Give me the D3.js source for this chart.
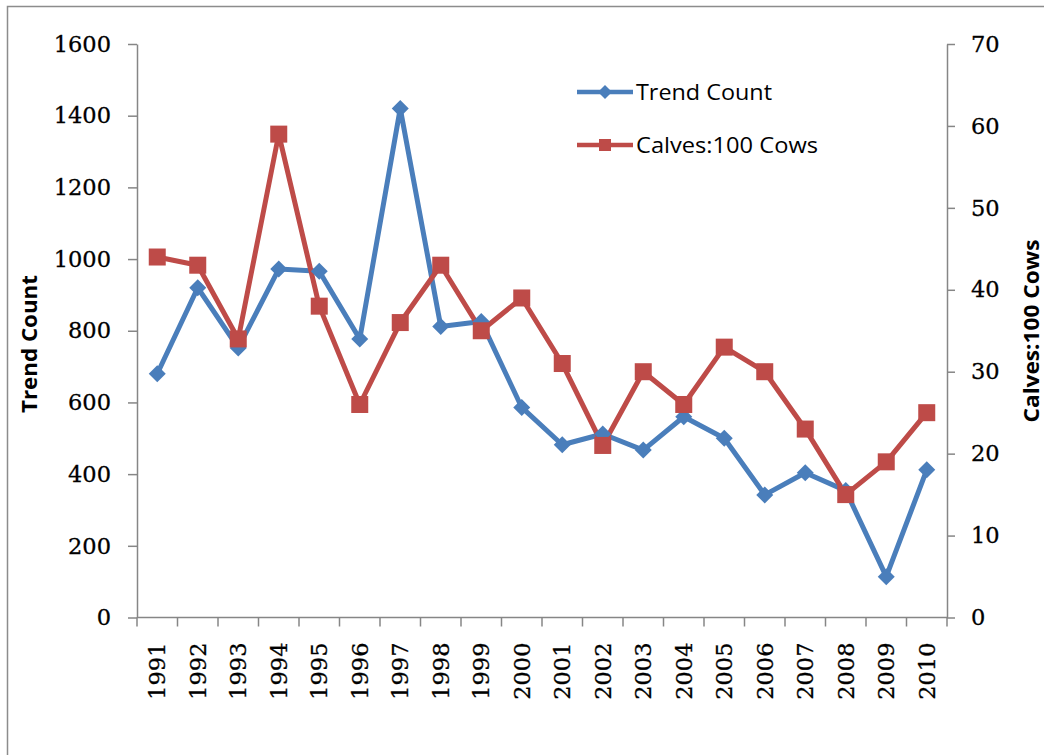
<!DOCTYPE html>
<html>
<head>
<meta charset="utf-8">
<script src="https://cdn.jsdelivr.net/npm/d3@7"></script>
<style>
  html, body { margin: 0; padding: 0; background: #fff; }
  svg { display: block; }
</style>
</head>
<body>
<script>
// ---- Data ----
const years = ["1991","1992","1993","1994","1995","1996","1997","1998","1999","2000",
               "2001","2002","2003","2004","2005","2006","2007","2008","2009","2010"];
const trendCount = [680, 920, 752, 972, 966, 777, 1420, 812, 826, 586,
                    482, 512, 467, 560, 500, 342, 404, 354, 114, 412];
const calvesPer100Cows = [44, 43, 34, 59, 38, 26, 36, 43, 35, 39,
                          31, 21, 30, 26, 33, 30, 23, 15, 19, 25];
const leftTicks = [0, 200, 400, 600, 800, 1000, 1200, 1400, 1600];
const rightTicks = [0, 10, 20, 30, 40, 50, 60, 70];
const seriesNames = ["Trend Count", "Calves:100 Cows"];

// ---- Layout ----
const W = 1044, H = 755;
const plotLeft = 137, plotRight = 947, plotTop = 44, plotBottom = 617.5;
const blue = "#4a7ebb", red = "#be4b48", axisColor = "#868686";
const tickFont = "'DejaVu Serif', 'Liberation Serif', serif";
const sansFont = "'Open Sans', Lato, sans-serif";
const tickSize = 22.5;

const svg = d3.select("body").append("svg").attr("width", W).attr("height", H);

// frame
svg.append("rect").attr("x", 7.5).attr("y", 6.5).attr("width", 1100).attr("height", 800)
  .attr("fill", "#fff").attr("stroke", "#8c8c8c").attr("stroke-width", 1.5);

const x = d3.scaleBand().domain(years).range([plotLeft, plotRight]);
const yL = d3.scaleLinear().domain([0, 1600]).range([plotBottom, plotTop]);
const yR = d3.scaleLinear().domain([0, 70]).range([plotBottom, plotTop]);

// Left axis
const gL = svg.append("g").attr("transform", `translate(${plotLeft},0)`)
  .call(d3.axisLeft(yL).tickValues(leftTicks).tickFormat(d3.format("d"))
    .tickSize(9).tickSizeOuter(0).tickPadding(17));
// Right axis
const gR = svg.append("g").attr("transform", `translate(${plotRight},0)`)
  .call(d3.axisRight(yR).tickValues(rightTicks).tickFormat(d3.format("d"))
    .tickSize(8).tickSizeOuter(0).tickPadding(16));

[gL, gR].forEach(g => {
  g.select(".domain").attr("stroke", axisColor).attr("stroke-width", 1.5);
  g.selectAll(".tick line").attr("stroke", axisColor).attr("stroke-width", 1.5);
  g.selectAll(".tick text").attr("font-family", tickFont).attr("font-size", tickSize)
    .attr("fill", "#000").attr("stroke", "#000").attr("stroke-width", 0.3);
});

// Bottom axis (ticks at category boundaries)
const gB = svg.append("g");
gB.append("line").attr("x1", plotLeft).attr("x2", plotRight).attr("y1", plotBottom).attr("y2", plotBottom)
  .attr("stroke", axisColor).attr("stroke-width", 1.5);
const boundaries = years.map(d => x(d)).concat([x.range()[1]]);
gB.selectAll("line.tk").data(boundaries).join("line").attr("class", "tk")
  .attr("x1", d => d).attr("x2", d => d).attr("y1", plotBottom).attr("y2", plotBottom + 9)
  .attr("stroke", axisColor).attr("stroke-width", 1.5);
gB.selectAll("text").data(years).join("text")
  .attr("transform", d => `translate(${x(d) + x.bandwidth() / 2},${plotBottom + 25}) rotate(-90)`)
  .attr("text-anchor", "end").attr("dy", "0.36em")
  .attr("font-family", tickFont).attr("font-size", tickSize)
  .attr("fill", "#000").attr("stroke", "#000").attr("stroke-width", 0.3)
  .text(d => d);

// Axis titles
svg.append("text").attr("transform", `translate(29,344) rotate(-90)`)
  .attr("text-anchor", "middle").attr("dy", "0.36em")
  .attr("font-family", sansFont).attr("font-weight", "bold").attr("font-size", 21)
  .attr("textLength", 138).attr("lengthAdjust", "spacingAndGlyphs")
  .attr("fill", "#000").text(seriesNames[0]);
svg.append("text").attr("transform", `translate(1031,331) rotate(-90)`)
  .attr("text-anchor", "middle").attr("dy", "0.36em")
  .attr("font-family", sansFont).attr("font-weight", "bold").attr("font-size", 21)
  .attr("textLength", 183).attr("lengthAdjust", "spacingAndGlyphs")
  .attr("fill", "#000").text(seriesNames[1]);

const cx = d => x(d) + x.bandwidth() / 2;

// Series lines
const lineT = d3.line().x((d, i) => cx(years[i])).y(d => yL(d));
const lineC = d3.line().x((d, i) => cx(years[i])).y(d => yR(d));

svg.append("path").datum(trendCount).attr("d", lineT)
  .attr("fill", "none").attr("stroke", blue).attr("stroke-width", 5).attr("stroke-linejoin", "round");
svg.append("path").datum(calvesPer100Cows).attr("d", lineC)
  .attr("fill", "none").attr("stroke", red).attr("stroke-width", 5).attr("stroke-linejoin", "round");

// Markers
const diamond = r => `M0,${-r}L${r},0L0,${r}L${-r},0Z`;
svg.append("g").selectAll("path").data(trendCount).join("path")
  .attr("transform", (d, i) => `translate(${cx(years[i])},${yL(d)})`)
  .attr("d", diamond(8.5)).attr("fill", blue);
svg.append("g").selectAll("rect").data(calvesPer100Cows).join("rect")
  .attr("x", (d, i) => cx(years[i]) - 8.5).attr("y", d => yR(d) - 8.5)
  .attr("width", 17).attr("height", 17).attr("fill", red);

// Legend
const legend = svg.append("g");
const legY = [92, 145];
const legColors = [blue, red];
const legLen = [136, 182];
seriesNames.forEach((name, i) => {
  legend.append("line").attr("x1", 577).attr("x2", 633).attr("y1", legY[i]).attr("y2", legY[i])
    .attr("stroke", legColors[i]).attr("stroke-width", 4.5);
  if (i === 0) {
    legend.append("path").attr("transform", `translate(605,${legY[i]})`)
      .attr("d", diamond(7)).attr("fill", blue);
  } else {
    legend.append("rect").attr("x", 599).attr("y", legY[i] - 6).attr("width", 12).attr("height", 12)
      .attr("fill", red);
  }
  legend.append("text").attr("x", 636).attr("y", legY[i]).attr("dy", "0.36em")
    .attr("font-family", sansFont).attr("font-size", 21)
    .attr("textLength", legLen[i]).attr("lengthAdjust", "spacingAndGlyphs")
    .attr("fill", "#000").text(name);
});
</script>
</body>
</html>
